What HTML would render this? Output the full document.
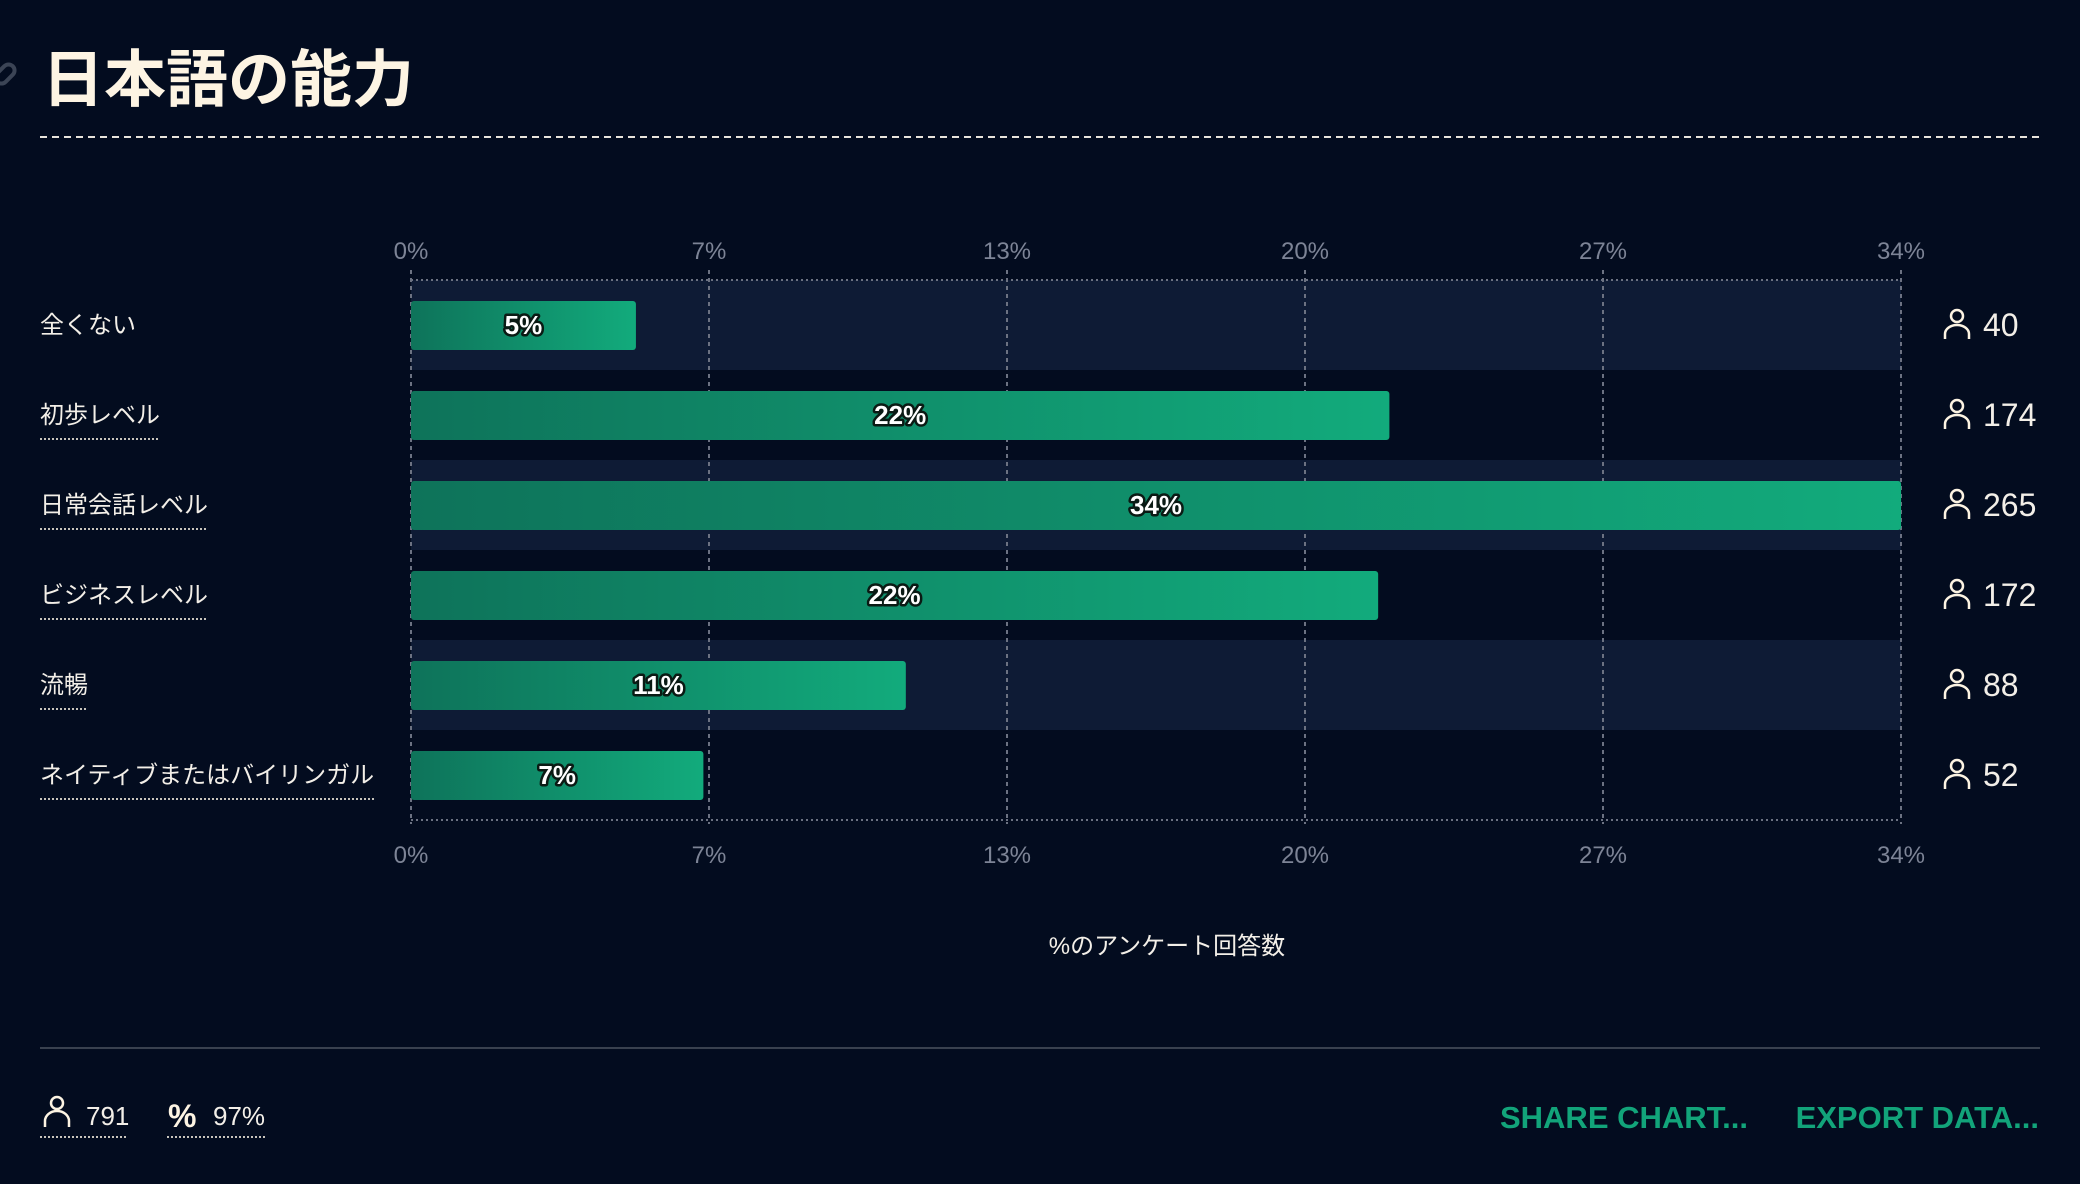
<!DOCTYPE html>
<html><head><meta charset="utf-8">
<style>
html,body{margin:0;padding:0;background:#030c1f;}
svg{display:block;}
text{font-family:"Liberation Sans","Noto Sans CJK JP",sans-serif;}
</style></head>
<body>
<svg id="chart" width="2080" height="1184" viewBox="0 0 2080 1184" xmlns="http://www.w3.org/2000/svg">
<defs>
<linearGradient id="barGrad" x1="0" y1="0" x2="1" y2="0">
<stop offset="0" stop-color="#0e735a"/>
<stop offset="1" stop-color="#12ab7c"/>
</linearGradient>
</defs>
<rect width="2080" height="1184" fill="#030c1f"/>
<g stroke="#3b4455" stroke-width="4" fill="none">
<rect x="-6" y="68" width="22" height="12" rx="6" transform="rotate(-45 5 74)"/>
</g>
<text x="42" y="101" font-size="62" font-weight="bold" fill="#fdf4e3">日本語の能力</text>
<line x1="40" y1="137" x2="2040" y2="137" stroke="#e8e4dc" stroke-width="2" stroke-dasharray="7,5"/>
<g id="plot"></g>
<text x="1167" y="954" font-size="24" fill="#f3efe8" text-anchor="middle">%のアンケート回答数</text>
<line x1="40" y1="1048" x2="2040" y2="1048" stroke="#39414f" stroke-width="2"/>
<g>
<circle cx="57" cy="1103" r="6" fill="none" stroke="#fdf4e3" stroke-width="2.5"/>
<path d="M45 1127 v-6 a12 10 0 0 1 24 0 v6" fill="none" stroke="#fdf4e3" stroke-width="2.5"/>
<text x="86" y="1125" font-size="26" fill="#f3efe8">791</text>
<line x1="40" y1="1137" x2="127" y2="1137" stroke="#c8c4bc" stroke-width="2" stroke-dasharray="2,2"/>
</g>
<g>
<text x="168" y="1127" font-size="32" font-weight="bold" fill="#fdf4e3">%</text>
<text x="213" y="1125" font-size="26" fill="#f3efe8">97%</text>
<line x1="167" y1="1137" x2="266" y2="1137" stroke="#c8c4bc" stroke-width="2" stroke-dasharray="2,2"/>
</g>
<text x="1748" y="1128" font-size="31" font-weight="bold" fill="#12a47a" text-anchor="end">SHARE CHART...</text>
<text x="2039" y="1128" font-size="31" font-weight="bold" fill="#12a47a" text-anchor="end">EXPORT DATA...</text>
</svg>
<script>
const categories = ["全くない","初歩レベル","日常会話レベル","ビジネスレベル","流暢","ネイティブまたはバイリンガル"];
const counts = [40,174,265,172,88,52];
const percentLabels = ["5%","22%","34%","22%","11%","7%"];
const tickValues = [0,6.7,13.4,20.1,26.8,33.5];
const tickLabels = ["0%","7%","13%","20%","27%","34%"];
const totalRespondents = 791;

const NS = "http://www.w3.org/2000/svg";
const plot = document.getElementById("plot");
const X0 = 411, X1 = 1901, TOP = 280, ROW = 90;
const xMax = tickValues[tickValues.length-1];
function xScale(v){ return X0 + (v / xMax) * (X1 - X0); }
function yRow(i){ return TOP + i * ROW; }
function mk(tag, attrs){ const e = document.createElementNS(NS, tag); for (const k in attrs) e.setAttribute(k, attrs[k]); plot.appendChild(e); return e; }
const BOTTOM = yRow(categories.length);

categories.forEach((c, i) => {
  if (i % 2 === 0) {
    const band = mk("rect", {x: X0, y: yRow(i), width: X1 - X0, height: ROW, fill: "#0e1b35"});
    
    
  }
});
tickValues.forEach((t, i) => {
  const x = xScale(t);
  const g = mk("line", {x1: x, y1: TOP - 10, x2: x, y2: BOTTOM + 4, stroke: "#6c7282", "stroke-width": 2, "stroke-dasharray": "4,4"});
  
  
  const tt = mk("text", {x: x, y: 259, "font-size": 24, fill: "#7d8496", "text-anchor": "middle"});
  tt.textContent = tickLabels[i];
  
  
  const tb = mk("text", {x: x, y: 863, "font-size": 24, fill: "#7d8496", "text-anchor": "middle"});
  tb.textContent = tickLabels[i];
  
  
});
[TOP, BOTTOM].forEach(y => {
  const l = mk("line", {x1: X0, y1: y, x2: X1, y2: y, stroke: "#6c7282", "stroke-width": 2, "stroke-dasharray": "2,3"});
  
  
});
categories.forEach((c, i) => {
  const pct = counts[i] / totalRespondents * 100;
  const y = yRow(i);
  const cy = y + ROW / 2;
  const w = xScale(pct) - X0;
  const bar = mk("rect", {x: X0, y: y + 21, width: w, height: 49, rx: 3, fill: "url(#barGrad)"});
  
  
  const bl = mk("text", {x: X0 + w / 2, y: cy + 9, "font-size": 26, "font-weight": "bold", fill: "#ffffff", stroke: "#0a1a14", "stroke-width": 5, "paint-order": "stroke", "stroke-linejoin": "round", "text-anchor": "middle"});
  bl.textContent = percentLabels[i];
  
  
  const lab = mk("text", {x: 40, y: cy + 8, "font-size": 24, fill: "#f3efe8"});
  lab.textContent = c;
  
  
  if (i > 0) {
    const lw = lab.getComputedTextLength();
    const ul = mk("line", {x1: 40, y1: cy + 24, x2: 40 + lw, y2: cy + 24, stroke: "#c8c4bc", "stroke-width": 2, "stroke-dasharray": "2,2"});
    
    
  }
  const ic = mk("circle", {cx: 1957, cy: cy - 9, r: 6, fill: "none", stroke: "#fdf4e3", "stroke-width": 2.5});
  
  
  const ib = mk("path", {d: `M1945 ${cy + 14} v-5 a12 9 0 0 1 24 0 v5`, fill: "none", stroke: "#fdf4e3", "stroke-width": 2.5});
  
  
  const ct = mk("text", {x: 1983, y: cy + 11, "font-size": 32, fill: "#f3efe8"});
  ct.textContent = counts[i];
  
  
});
</script>
</body></html>
